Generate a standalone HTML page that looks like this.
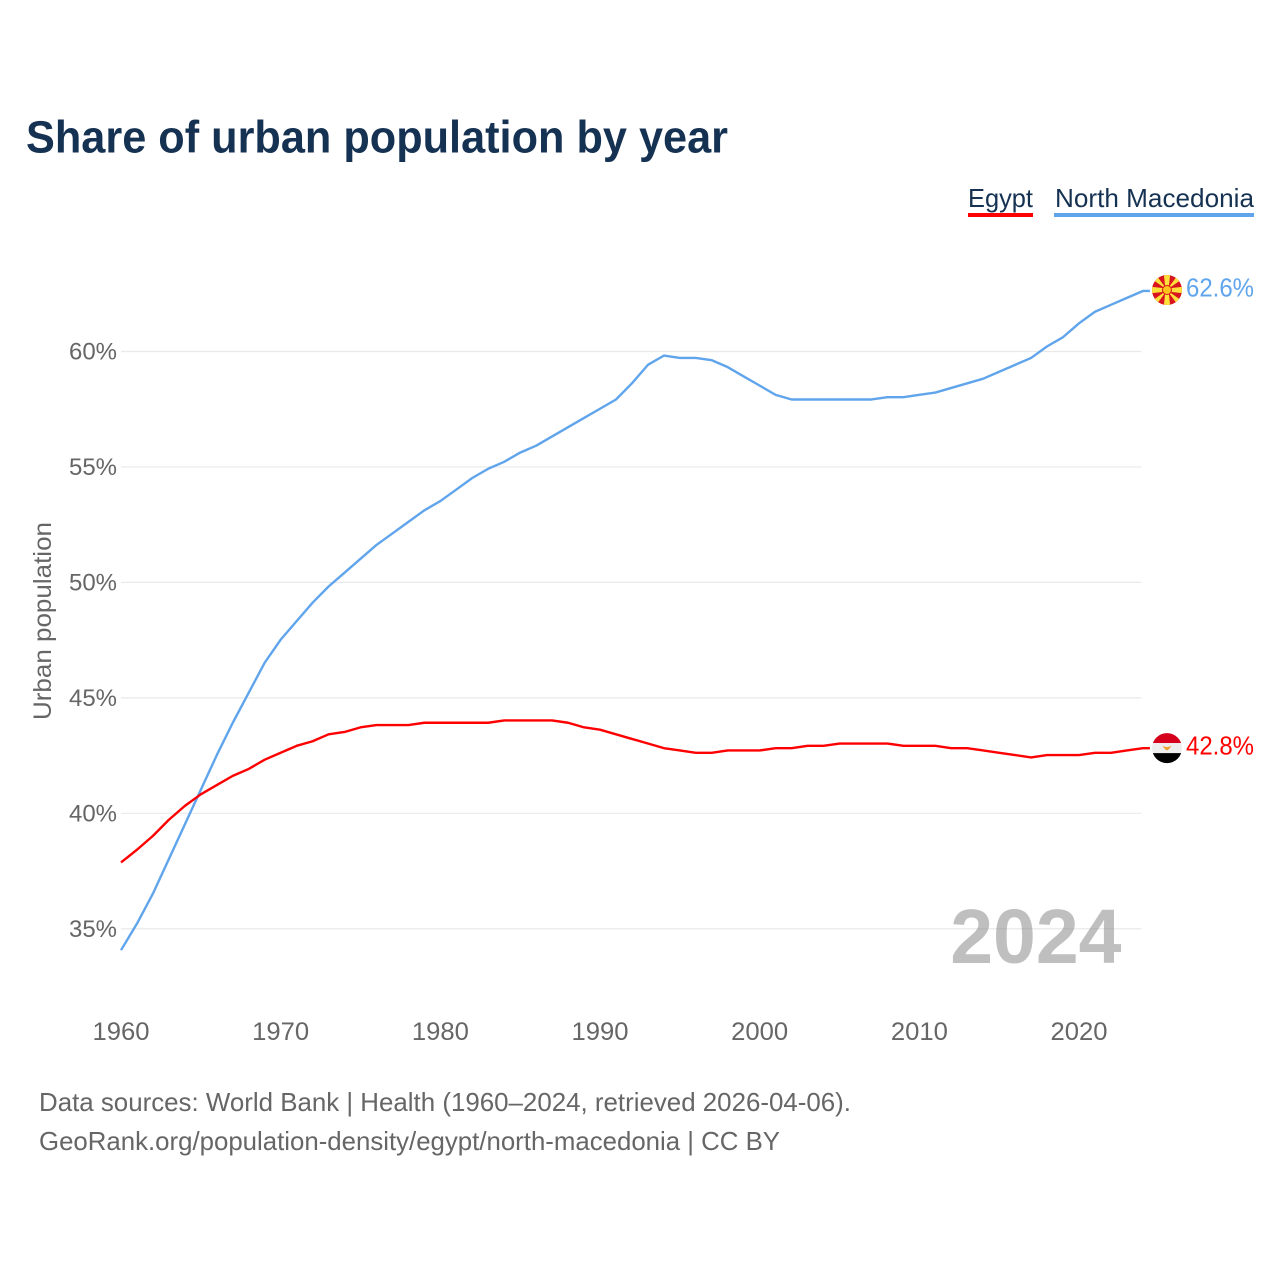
<!DOCTYPE html>
<html lang="en">
<head>
<meta charset="utf-8">
<title>Share of urban population by year</title>
<style>
html,body{margin:0;padding:0;background:#fff;width:1280px;height:1280px;overflow:hidden}
svg{display:block}
text{font-family:"Liberation Sans",sans-serif}
</style>
</head>
<body>
<svg id="chart" xmlns="http://www.w3.org/2000/svg" width="1280" height="1280" viewBox="0 0 1280 1280">
  <rect width="1280" height="1280" fill="#fff"/>
  <text x="26" y="152.5" font-size="45" font-weight="700" fill="#163253" textLength="702" lengthAdjust="spacingAndGlyphs">Share of urban population by year</text>
  <g id="legend">
    <g>
      <text x="968" y="207" font-size="26" fill="#163253" textLength="65" lengthAdjust="spacingAndGlyphs">Egypt</text>
      <rect x="968" y="213" width="65" height="4" fill="#ff0000"/>
    </g>
    <g>
      <text x="1055" y="207" font-size="26" fill="#163253" textLength="199" lengthAdjust="spacingAndGlyphs">North Macedonia</text>
      <rect x="1054" y="213" width="200" height="4" fill="#60a5ec"/>
    </g>
  </g>
  <g id="grid"></g>
  <g id="ylabels"></g>
  <g id="xlabels"></g>
  <text transform="translate(51,720) rotate(-90)" font-size="25" fill="#666" textLength="198" lengthAdjust="spacingAndGlyphs">Urban population</text>
  <text id="yearLabel" x="1121.5" y="963" text-anchor="end" font-size="77" font-weight="700" fill="#808080" fill-opacity="0.5"></text>
  <g id="series"></g>
  <g id="flags">
    <clipPath id="mkClip"><circle cx="0" cy="0" r="15"/></clipPath>
    <clipPath id="egClip"><circle cx="0" cy="0" r="15"/></clipPath>
    <g id="flagMk" clip-path="url(#mkClip)">
      <rect x="-16" y="-16" width="32" height="32" fill="#d8141e"/>
      <polygon points="-1.5,0 1.5,0 3.2,-16 -3.2,-16" fill="#ffe03a"/>
      <polygon points="-1.5,0 1.5,0 3.2,16 -3.2,16" fill="#ffe03a"/>
      <polygon points="0,-1.5 0,1.5 -16,3.2 -16,-3.2" fill="#ffe03a"/>
      <polygon points="0,-1.5 0,1.5 16,3.2 16,-3.2" fill="#ffe03a"/>
      <polygon points="-1,1 1,-1 14.5,-10.5 10.5,-14.5" fill="#ffe03a"/>
      <polygon points="-1,-1 1,1 14.5,10.5 10.5,14.5" fill="#ffe03a"/>
      <polygon points="1,1 -1,-1 -14.5,-10.5 -10.5,-14.5" fill="#ffe03a"/>
      <polygon points="1,-1 -1,1 -14.5,10.5 -10.5,14.5" fill="#ffe03a"/>
      <circle r="5" fill="#d8141e"/>
      <circle r="4" fill="#ffc21a"/>
    </g>
    <g id="flagEg" clip-path="url(#egClip)">
      <rect x="-16" y="-16" width="32" height="11" fill="#d5001c"/>
      <rect x="-16" y="-5" width="32" height="10" fill="#eeeeee"/>
      <rect x="-16" y="5" width="32" height="11" fill="#000"/>
      <polygon points="-4.5,-2 0,-1 4.5,-2 2,1 0,2.5 -2,1" fill="#f0a030"/>
    </g>
  </g>
  <g id="endlabels"></g>
  <text x="39" y="1111" font-size="26" fill="#666" textLength="812" lengthAdjust="spacingAndGlyphs">Data sources: World Bank | Health (1960–2024, retrieved 2026-04-06).</text>
  <text x="39" y="1150" font-size="26" fill="#666" textLength="741" lengthAdjust="spacingAndGlyphs">GeoRank.org/population-density/egypt/north-macedonia | CC BY</text>
</svg>
<script>
const years = [1960,1961,1962,1963,1964,1965,1966,1967,1968,1969,1970,1971,1972,1973,1974,1975,1976,1977,1978,1979,1980,1981,1982,1983,1984,1985,1986,1987,1988,1989,1990,1991,1992,1993,1994,1995,1996,1997,1998,1999,2000,2001,2002,2003,2004,2005,2006,2007,2008,2009,2010,2011,2012,2013,2014,2015,2016,2017,2018,2019,2020,2021,2022,2023,2024];
const egyptValues = [37.85,38.4,39.0,39.7,40.3,40.8,41.2,41.6,41.9,42.3,42.6,42.9,43.1,43.4,43.5,43.7,43.8,43.8,43.8,43.9,43.9,43.9,43.9,43.9,44.0,44.0,44.0,44.0,43.9,43.7,43.6,43.4,43.2,43.0,42.8,42.7,42.6,42.6,42.7,42.7,42.7,42.8,42.8,42.9,42.9,43.0,43.0,43.0,43.0,42.9,42.9,42.9,42.8,42.8,42.7,42.6,42.5,42.4,42.5,42.5,42.5,42.6,42.6,42.7,42.8];
const macedoniaValues = [34.05,35.2,36.5,38.0,39.5,41.0,42.5,43.9,45.2,46.5,47.5,48.3,49.1,49.8,50.4,51.0,51.6,52.1,52.6,53.1,53.5,54.0,54.5,54.9,55.2,55.6,55.9,56.3,56.7,57.1,57.5,57.9,58.6,59.4,59.8,59.7,59.7,59.6,59.3,58.9,58.5,58.1,57.9,57.9,57.9,57.9,57.9,57.9,58.0,58.0,58.1,58.2,58.4,58.6,58.8,59.1,59.4,59.7,60.2,60.6,61.2,61.7,62.0,62.3,62.6];
const yTicks = [35,40,45,50,55,60];
const xTicks = [1960,1970,1980,1990,2000,2010,2020];

const NS = 'http://www.w3.org/2000/svg';
const xScale = function (year) { return 121 + (year - 1960) * 15.967; };
const yScale = function (value) { return 351 + (60 - value) * 23.09; };
const plotRight = xScale(years[years.length - 1]);

function make(tag, parent, attrs, text) {
  const el = document.createElementNS(NS, tag);
  Object.keys(attrs).forEach(function (k) { el.setAttribute(k, attrs[k]); });
  if (text !== undefined) el.textContent = text;
  parent.appendChild(el);
  return el;
}

const grid = document.getElementById('grid');
const ylabels = document.getElementById('ylabels');
yTicks.forEach(function (t) {
  const line = make('line', grid, {x1: 121, x2: plotRight - 1.5, y1: yScale(t) + 0.5, y2: yScale(t) + 0.5, stroke: '#e9e9e9', 'stroke-width': 1.2});
  
  
  const lab = make('text', ylabels, {x: 117, y: yScale(t) + 8.5, 'text-anchor': 'end', 'font-size': 24.5, fill: '#666', textLength: 48, lengthAdjust: 'spacingAndGlyphs'}, t + '%');
  
  
});

const xlabels = document.getElementById('xlabels');
xTicks.forEach(function (t) {
  const lab = make('text', xlabels, {x: xScale(t), y: 1040, 'text-anchor': 'middle', 'font-size': 25, fill: '#666', textLength: 57, lengthAdjust: 'spacingAndGlyphs'}, String(t));
  
  
});

function linePath(values) {
  let d = values.map(function (v, i) {
    return (i ? 'L' : 'M') + xScale(years[i]).toFixed(2) + ' ' + yScale(v).toFixed(2);
  }).join(' ');
  d += ' L' + (plotRight + 7).toFixed(2) + ' ' + yScale(values[values.length - 1]).toFixed(2);
  return d;
}

const seriesGroup = document.getElementById('series');
const macedoniaLine = make('path', seriesGroup, {d: linePath(macedoniaValues), fill: 'none', stroke: '#60a5ec', 'stroke-width': 2.4, 'stroke-linejoin': 'round'});


const egyptLine = make('path', seriesGroup, {d: linePath(egyptValues), fill: 'none', stroke: '#ff0000', 'stroke-width': 2.4, 'stroke-linejoin': 'round'});



const lastMk = macedoniaValues[macedoniaValues.length - 1];
const lastEg = egyptValues[egyptValues.length - 1];
document.getElementById('flagMk').setAttribute('transform', 'translate(1167,' + (yScale(lastMk) - 1).toFixed(1) + ')');
document.getElementById('flagEg').setAttribute('transform', 'translate(1167,' + yScale(lastEg).toFixed(1) + ')');

const endlabels = document.getElementById('endlabels');
const endMk = make('text', endlabels, {x: 1186, y: yScale(lastMk) + 5.5, 'font-size': 26, fill: '#60a5ec', textLength: 68, lengthAdjust: 'spacingAndGlyphs'}, lastMk.toFixed(1) + '%');


const endEg = make('text', endlabels, {x: 1186, y: yScale(lastEg) + 6.5, 'font-size': 26, fill: '#ff0000', textLength: 68, lengthAdjust: 'spacingAndGlyphs'}, lastEg.toFixed(1) + '%');



document.getElementById('yearLabel').textContent = years[years.length - 1];
</script>
</body>
</html>
